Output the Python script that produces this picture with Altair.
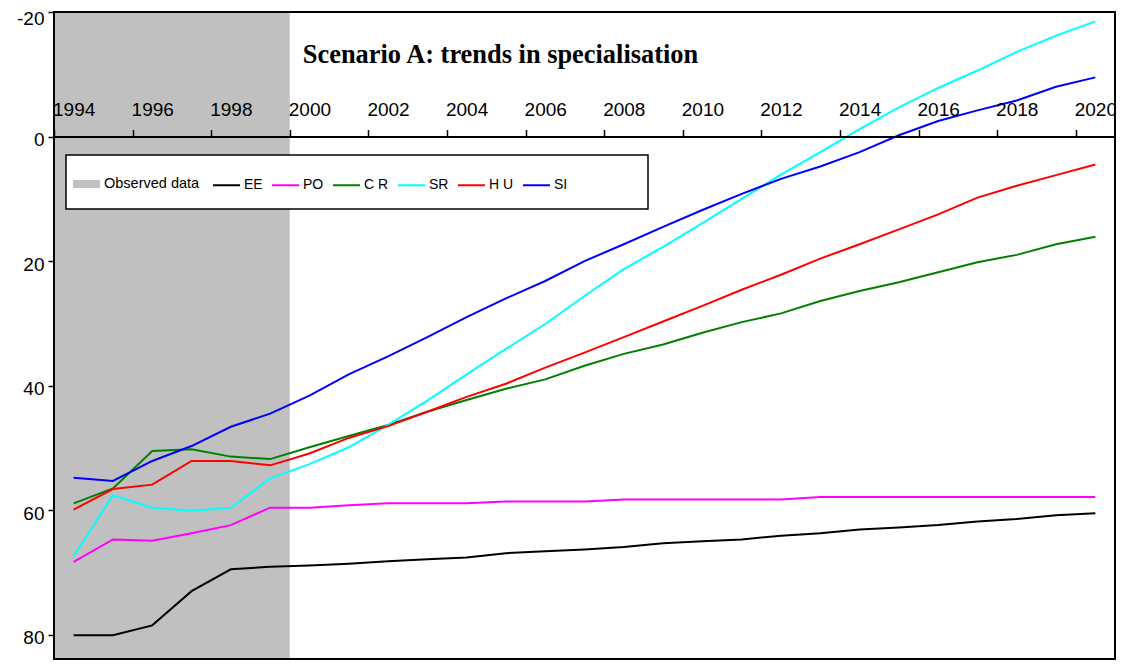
import altair as alt
import pandas as pd

# ---- data ----
years = list(range(1994, 2021))
series_names = ["EE", "PO", "C R", "SR", "H U", "SI"]
series_colors = ["#000000", "#FF00FF", "#008000", "#00FFFF", "#FF0000", "#0000FF"]

EE = [80.1, 80.1, 78.5, 73.0, 69.5, 69.1, 68.9, 68.6, 68.2, 67.9, 67.6, 66.9, 66.6, 66.3,
      65.9, 65.3, 65.0, 64.7, 64.1, 63.7, 63.1, 62.8, 62.4, 61.8, 61.4, 60.8, 60.5]
PO = [68.3, 64.7, 64.9, 63.7, 62.4, 59.6, 59.6, 59.2, 58.9, 58.9, 58.9, 58.6, 58.6, 58.6,
      58.3, 58.3, 58.3, 58.3, 58.3, 57.9, 57.9, 57.9, 57.9, 57.9, 57.9, 57.9, 57.9]
CR = [58.9, 56.5, 50.5, 50.2, 51.4, 51.8, 49.9, 48.1, 46.3, 44.2, 42.3, 40.5, 39.0, 36.8,
      34.9, 33.4, 31.5, 29.8, 28.4, 26.4, 24.8, 23.4, 21.8, 20.2, 19.0, 17.3, 16.1]
SR = [67.4, 57.6, 59.6, 60.1, 59.6, 54.9, 52.6, 49.9, 46.3, 42.4, 38.2, 34.1, 30.1, 25.6,
      21.3, 17.7, 13.9, 10.0, 6.1, 2.5, -1.2, -4.7, -7.8, -10.6, -13.6, -16.2, -18.5]
HU = [59.9, 56.6, 55.9, 52.1, 52.1, 52.8, 50.9, 48.4, 46.5, 44.2, 41.8, 39.7, 37.1, 34.7,
      32.2, 29.7, 27.2, 24.6, 22.2, 19.6, 17.3, 14.9, 12.5, 9.8, 7.9, 6.2, 4.5]
SI = [54.8, 55.3, 52.1, 49.7, 46.6, 44.5, 41.6, 38.2, 35.3, 32.2, 29.0, 26.0, 23.2, 20.0,
      17.3, 14.5, 11.8, 9.2, 6.8, 4.8, 2.5, -0.2, -2.5, -4.2, -5.8, -8.0, -9.5]

observed_label = ["Observed data"]
observed_start = [1994]
observed_end = [1999]

x_tick_labels = list(range(1994, 2021, 2))
y_tick_values = [-20, 0, 20, 40, 60, 80]
title_text = "Scenario A: trends in specialisation"

# ---- build tables ----
values = [EE, PO, CR, SR, HU, SI]
rows = []
for name, vals in zip(series_names, values):
    for yr, v in zip(years, vals):
        rows.append({"series": name, "year": yr, "value": v})
df = pd.DataFrame(rows)
obs_df = pd.DataFrame({"label": observed_label, "start": observed_start, "end": observed_end})

# ---- layout ----
W, H = 1061, 647
y_dom = [-20, 83.9]
x_dom = [years[0] - 0.5, years[-1] + 0.5]
px_year = W / (x_dom[1] - x_dom[0])
zero_pos = H * (0 - y_dom[0]) / (y_dom[1] - y_dom[0])

FONT = "Liberation Sans"

x_scale = alt.Scale(domain=x_dom, nice=False, zero=False)
y_scale = alt.Scale(domain=y_dom, reverse=True, nice=False, zero=False)

x_axis = alt.Axis(
    orient="top", offset=-zero_pos, values=x_tick_labels, format="d", title=None,
    tickOffset=-px_year / 2, labelOffset=px_year / 2,
    tickSize=7, tickWidth=1.5, tickColor="black",
    domain=True, domainColor="black", domainWidth=2,
    labelFont=FONT, labelFontSize=19, labelColor="black", labelPadding=10,
    labelFlush=False, labelOverlap=False, grid=False, zindex=1,
)
y_axis = alt.Axis(
    orient="left", values=y_tick_values, title=None, domain=False,
    labelExpr="datum.value + ''",
    tickSize=6, tickWidth=1.5, tickColor="black",
    labelFont=FONT, labelFontSize=19, labelColor="black", labelPadding=4,
    labelOffset={"condition": {"test": "datum.value == -20", "value": 6}, "value": 3},
    grid=False, labelOverlap=False,
)

shade = alt.Chart(obs_df).transform_calculate(
    x0="datum.start - 0.5", x1="datum.end + 0.5"
).mark_rect(opacity=1).encode(
    x=alt.X("x0:Q", scale=x_scale, axis=x_axis),
    x2="x1:Q",
    y=alt.value(0),
    y2=alt.value(H),
    fill=alt.Fill(
        "label:N",
        scale=alt.Scale(domain=observed_label, range=["#C0C0C0"]),
        legend=alt.Legend(
            orient="none", legendX=19, legendY=158.5, title=None,
            symbolType="M-1,-0.3L1,-0.3L1,0.3L-1,0.3Z", symbolSize=729,
            symbolStrokeWidth=0, symbolOpacity=1,
            labelFont=FONT, labelFontSize=14.5, labelColor="black", labelOffset=4,
            padding=0,
        ),
    ),
)

legend_box = alt.Chart(alt.Data(values=[{}])).mark_rect(
    fill="white", stroke="black", strokeWidth=1.5
).encode(
    x=alt.value(12), x2=alt.value(594), y=alt.value(143), y2=alt.value(197)
)

lines = alt.Chart(df).mark_line(strokeWidth=2).encode(
    x=alt.X("year:Q", scale=x_scale, axis=x_axis),
    y=alt.Y("value:Q", scale=y_scale, axis=y_axis),
    stroke=alt.Stroke(
        "series:N",
        scale=alt.Scale(domain=series_names, range=series_colors),
        legend=alt.Legend(
            orient="none", legendX=158, legendY=158.5, title=None, direction="horizontal",
            symbolType="stroke", symbolSize=729, symbolStrokeWidth=2,
            columnPadding=5, labelOffset=3,
            labelFont=FONT, labelFontSize=14, labelColor="black",
            padding=0,
        ),
    ),
)

title = alt.Chart(alt.Data(values=[{}])).mark_text(
    text=title_text, font="Liberation Serif", fontWeight="bold", fontSize=26.4,
    align="center", baseline="alphabetic", color="black",
).encode(x=alt.value(446.5), y=alt.value(51))

frame = alt.Chart(alt.Data(values=[{}])).mark_rect(
    filled=False, stroke="black", strokeWidth=2
).encode(x=alt.value(0), x2=alt.value(W), y=alt.value(0), y2=alt.value(H))

chart = alt.layer(shade, legend_box, lines, title, frame).resolve_scale(
    fill="independent", stroke="independent"
).properties(
    width=W, height=H,
    autosize=alt.AutoSizeParams(type="none"),
    padding={"left": 46, "top": 4, "right": 1, "bottom": 1},
).configure_view(stroke=None).configure(background="white")

chart.save("out.html", embed_options={"renderer": "svg", "actions": False})
